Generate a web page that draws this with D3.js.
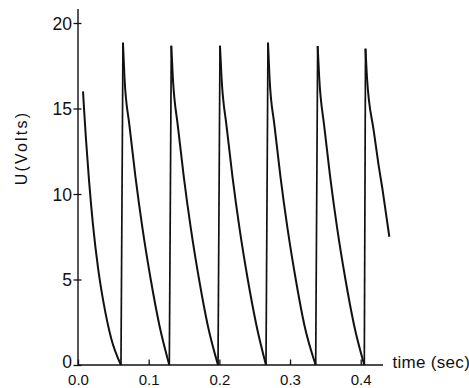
<!DOCTYPE html>
<html>
<head>
<meta charset="utf-8">
<script src="https://cdn.jsdelivr.net/npm/d3@7"></script>
<style>
  html, body { margin: 0; padding: 0; background: #fff; }
  svg { display: block; }
  text { font-family: "Liberation Sans", Arial, sans-serif; fill: #111; }
</style>
</head>
<body>
<svg id="chart" width="469" height="388"></svg>
<script>
// ---- data (time in sec, voltage in V) ----
const xTicks = [0.0, 0.1, 0.2, 0.3, 0.4];
const yTicks = [0, 5, 10, 15, 20];
const xLabel = "time (sec)";
const yLabel = "U(Volts)";

// initial decay
const pulse0 = [[0.0071,16.0],[0.0085,15.0],[0.0113,13.2],[0.0156,10.8],[0.0212,8.2],[0.0283,5.7],[0.0368,3.5],[0.0467,1.6],[0.0608,0]];
// each pulse: rise point, peak, then decay
const pulse1 = [[0.0608,0],[0.0636,18.85],[0.0658,16.8],[0.0728,14.0],[0.0813,11.0],[0.0912,8.0],[0.1025,5.1],[0.1153,2.3],[0.1292,0]];
const pulse2 = [[0.1292,0],[0.1320,18.67],[0.1342,16.8],[0.1412,14.0],[0.1497,11.0],[0.1596,8.0],[0.1709,5.1],[0.1837,2.3],[0.1981,0]];
const pulse3 = [[0.1981,0],[0.2009,18.67],[0.2031,16.8],[0.2101,14.0],[0.2186,11.0],[0.2285,8.0],[0.2398,5.1],[0.2526,2.3],[0.2660,0]];
const pulse4 = [[0.2660,0],[0.2688,18.85],[0.2710,16.8],[0.2780,14.0],[0.2865,11.0],[0.2964,8.0],[0.3077,5.1],[0.3205,2.3],[0.3363,0]];
const pulse5 = [[0.3363,0],[0.3391,18.65],[0.3413,16.8],[0.3483,14.0],[0.3568,11.0],[0.3667,8.0],[0.3780,5.1],[0.3908,2.3],[0.4051,0]];
const pulse6 = [[0.4051,0],[0.4068,18.5],[0.4089,16.8],[0.4184,13.7],[0.4249,11.8],[0.4311,10.2],[0.4405,7.5]];
const pulses = [pulse1, pulse2, pulse3, pulse4, pulse5, pulse6];

// axis extents
const xAxisEnd = 0.4316;
const yAxisEnd = 20.82;

// ---- layout ----
const svg = d3.select("#chart");
const x = d3.scaleLinear().domain([0, 0.4]).range([78, 360.7]);
const y = d3.scaleLinear().domain([0, 20]).range([365, 23]);

const ink = "#111";

// y axis
const yAxis = svg.append("g").attr("transform", `translate(${x(0)},0)`)
  .call(d3.axisLeft(y).tickValues(yTicks).tickFormat(d3.format("d")).tickSize(4).tickPadding(6));
yAxis.select(".domain").remove();
yAxis.selectAll(".tick line").attr("x1", 3.5).attr("x2", -4.5).attr("stroke", ink).attr("stroke-width", 1.3);
yAxis.selectAll(".tick text").attr("font-size", 17.5).attr("x", -6)
  .attr("dy", d => d === 0 ? "0.13em" : "0.36em")
  .style("font-family", "'Liberation Sans', Arial, sans-serif").attr("fill", ink);
svg.append("line").attr("x1", x(0)).attr("x2", x(0)).attr("y1", y(0)).attr("y2", y(yAxisEnd))
  .attr("stroke", ink).attr("stroke-width", 1.4);

// x axis
const xAxis = svg.append("g").attr("transform", `translate(0,${y(0)})`)
  .call(d3.axisBottom(x).tickValues(xTicks).tickFormat(d3.format(".1f")).tickSize(0));
xAxis.select(".domain").remove();
xAxis.selectAll(".tick line").attr("y1", 0).attr("y2", -5.5).attr("stroke", ink).attr("stroke-width", 1.3);
xAxis.selectAll(".tick text").attr("font-size", 15).attr("y", 19.8).attr("dy", 0)
  .style("font-family", "'Liberation Sans', Arial, sans-serif").attr("fill", ink);
svg.append("line").attr("x1", x(0)).attr("x2", x(xAxisEnd)).attr("y1", y(0)).attr("y2", y(0))
  .attr("stroke", ink).attr("stroke-width", 1.4);

// axis titles
svg.append("text").attr("x", 392.5).attr("y", 368).attr("font-size", 17).attr("letter-spacing", 0.3).text(xLabel);
svg.append("text").attr("transform", `translate(26.5,148) rotate(-90)`)
  .attr("text-anchor", "middle").attr("font-size", 16).attr("letter-spacing", 2.2).text(yLabel);

// curves
const smooth = d3.line().x(d => x(d[0])).y(d => y(d[1])).curve(d3.curveMonotoneX);
const straight = d3.line().x(d => x(d[0])).y(d => y(d[1]));

svg.append("path").attr("d", smooth(pulse0)).attr("fill", "none")
  .attr("stroke", ink).attr("stroke-width", 2);
pulses.forEach(p => {
  svg.append("path").attr("d", straight(p.slice(0, 2))).attr("fill", "none")
    .attr("stroke", ink).attr("stroke-width", 1.7);
  svg.append("path").attr("d", smooth(p.slice(1))).attr("fill", "none")
    .attr("stroke", ink).attr("stroke-width", 2).attr("stroke-linejoin", "miter");
});
</script>
</body>
</html>
